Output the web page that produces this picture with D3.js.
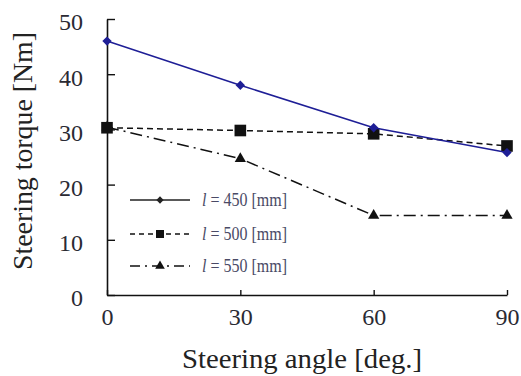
<!DOCTYPE html>
<html>
<head>
<meta charset="utf-8">
<script src="https://cdn.jsdelivr.net/npm/d3@7"></script>
<style>
  html, body { margin: 0; padding: 0; background: #fff; }
  svg { display: block; }
  text { font-family: "Liberation Serif", "Times New Roman", serif; }
</style>
</head>
<body>
<svg id="chart" width="521" height="376"></svg>
<script>
// Steering angle (deg.) at which torque was measured
const angles = [0, 30, 60, 90];
// Steering torque (Nm) for each tie-rod length l
const torque450 = [46.0, 38.0, 30.3, 25.8];
const torque500 = [30.3, 29.8, 29.2, 27.0];
const torque550 = [30.4, 24.7, 14.4, 14.4];
const seriesLabels = ["450", "500", "550"];
const xTicks = [0, 30, 60, 90];
const yTicks = [0, 10, 20, 30, 40, 50];

const svg = d3.select("#chart");
const x = d3.scaleLinear().domain([0, 90]).range([107, 507]);
const y = d3.scaleLinear().domain([0, 50]).range([295, 19]);

const series = [
  { name: seriesLabels[0], values: torque450, color: "#1e1e96", dash: null, legendDash: null, marker: d3.symbolDiamond2, size: 56, legendSize: 34, legendColor: "#222" },
  { name: seriesLabels[1], values: torque500, color: "#111", dash: "6,4", legendDash: "5,4", marker: d3.symbolSquare, size: 135, legendSize: 64, legendColor: "#111" },
  { name: seriesLabels[2], values: torque550, color: "#111", dash: "12,5,2,5", legendDash: "10,5,2,5", marker: d3.symbolTriangle, size: 55, legendSize: 40, legendColor: "#111" }
];

// axes
const yAxis = d3.axisLeft(y).tickValues(yTicks).tickSizeInner(-8).tickSizeOuter(0).tickPadding(24);
const xAxis = d3.axisBottom(x).tickValues(xTicks).tickSizeInner(-5).tickSizeOuter(0).tickPadding(13);

const gy = svg.append("g").attr("transform", "translate(107,0)").call(yAxis);
const gx = svg.append("g").attr("transform", "translate(0,295)").call(xAxis);

[gy, gx].forEach(g => {
  g.selectAll("path.domain").attr("stroke", "#111").attr("stroke-width", 1.6);
  g.selectAll(".tick line").attr("stroke", "#111").attr("stroke-width", 1.4);
  g.selectAll(".tick text")
    .attr("fill", "#2a2a33")
    .style("font-family", "'Liberation Serif', serif")
    .style("font-size", "24px");
});
gy.selectAll(".tick text").attr("dy", "0.45em");

// lines and markers
const line = d3.line().x((d, i) => x(angles[i])).y(d => y(d));

// draw order: 550, 500, 450 so the solid line sits on top
[series[2], series[1], series[0]].forEach(s => {
  svg.append("path")
    .datum(s.values)
    .attr("fill", "none")
    .attr("stroke", s.color)
    .attr("stroke-width", 1.5)
    .attr("stroke-dasharray", s.dash)
    .attr("d", line);
  svg.append("g").selectAll("path")
    .data(s.values)
    .join("path")
    .attr("transform", (d, i) => `translate(${x(angles[i])},${y(d)})`)
    .attr("d", d3.symbol().type(s.marker).size(s.size))
    .attr("fill", s.color);
});

// legend
const legendRows = [200, 234, 266];
series.forEach((s, i) => {
  const g = svg.append("g").attr("transform", `translate(0,${legendRows[i]})`);
  g.append("line")
    .attr("x1", 130).attr("x2", 190).attr("y1", 0).attr("y2", 0)
    .attr("stroke", s.legendColor).attr("stroke-width", 1.5)
    .attr("stroke-dasharray", s.legendDash);
  g.append("path")
    .attr("transform", "translate(160,0)")
    .attr("d", d3.symbol().type(s.marker).size(s.legendSize))
    .attr("fill", s.legendColor);
  const t = g.append("text")
    .attr("x", 202).attr("y", 6)
    .attr("fill", "#4a4a66")
    .style("font-size", "18px")
    .attr("textLength", 85)
    .attr("lengthAdjust", "spacingAndGlyphs");
  t.append("tspan").style("font-style", "italic").text("l");
  t.append("tspan").text(` = ${s.name} [mm]`);
});

// axis titles
svg.append("text")
  .attr("x", 302).attr("y", 368)
  .attr("text-anchor", "middle")
  .attr("fill", "#222")
  .style("font-size", "27px")
  .attr("textLength", 240)
  .attr("lengthAdjust", "spacingAndGlyphs")
  .text("Steering angle [deg.]");

svg.append("text")
  .attr("transform", "translate(32,151) rotate(-90)")
  .attr("text-anchor", "middle")
  .attr("fill", "#222")
  .style("font-size", "27px")
  .attr("textLength", 238)
  .attr("lengthAdjust", "spacingAndGlyphs")
  .text("Steering torque [Nm]");
</script>
</body>
</html>
